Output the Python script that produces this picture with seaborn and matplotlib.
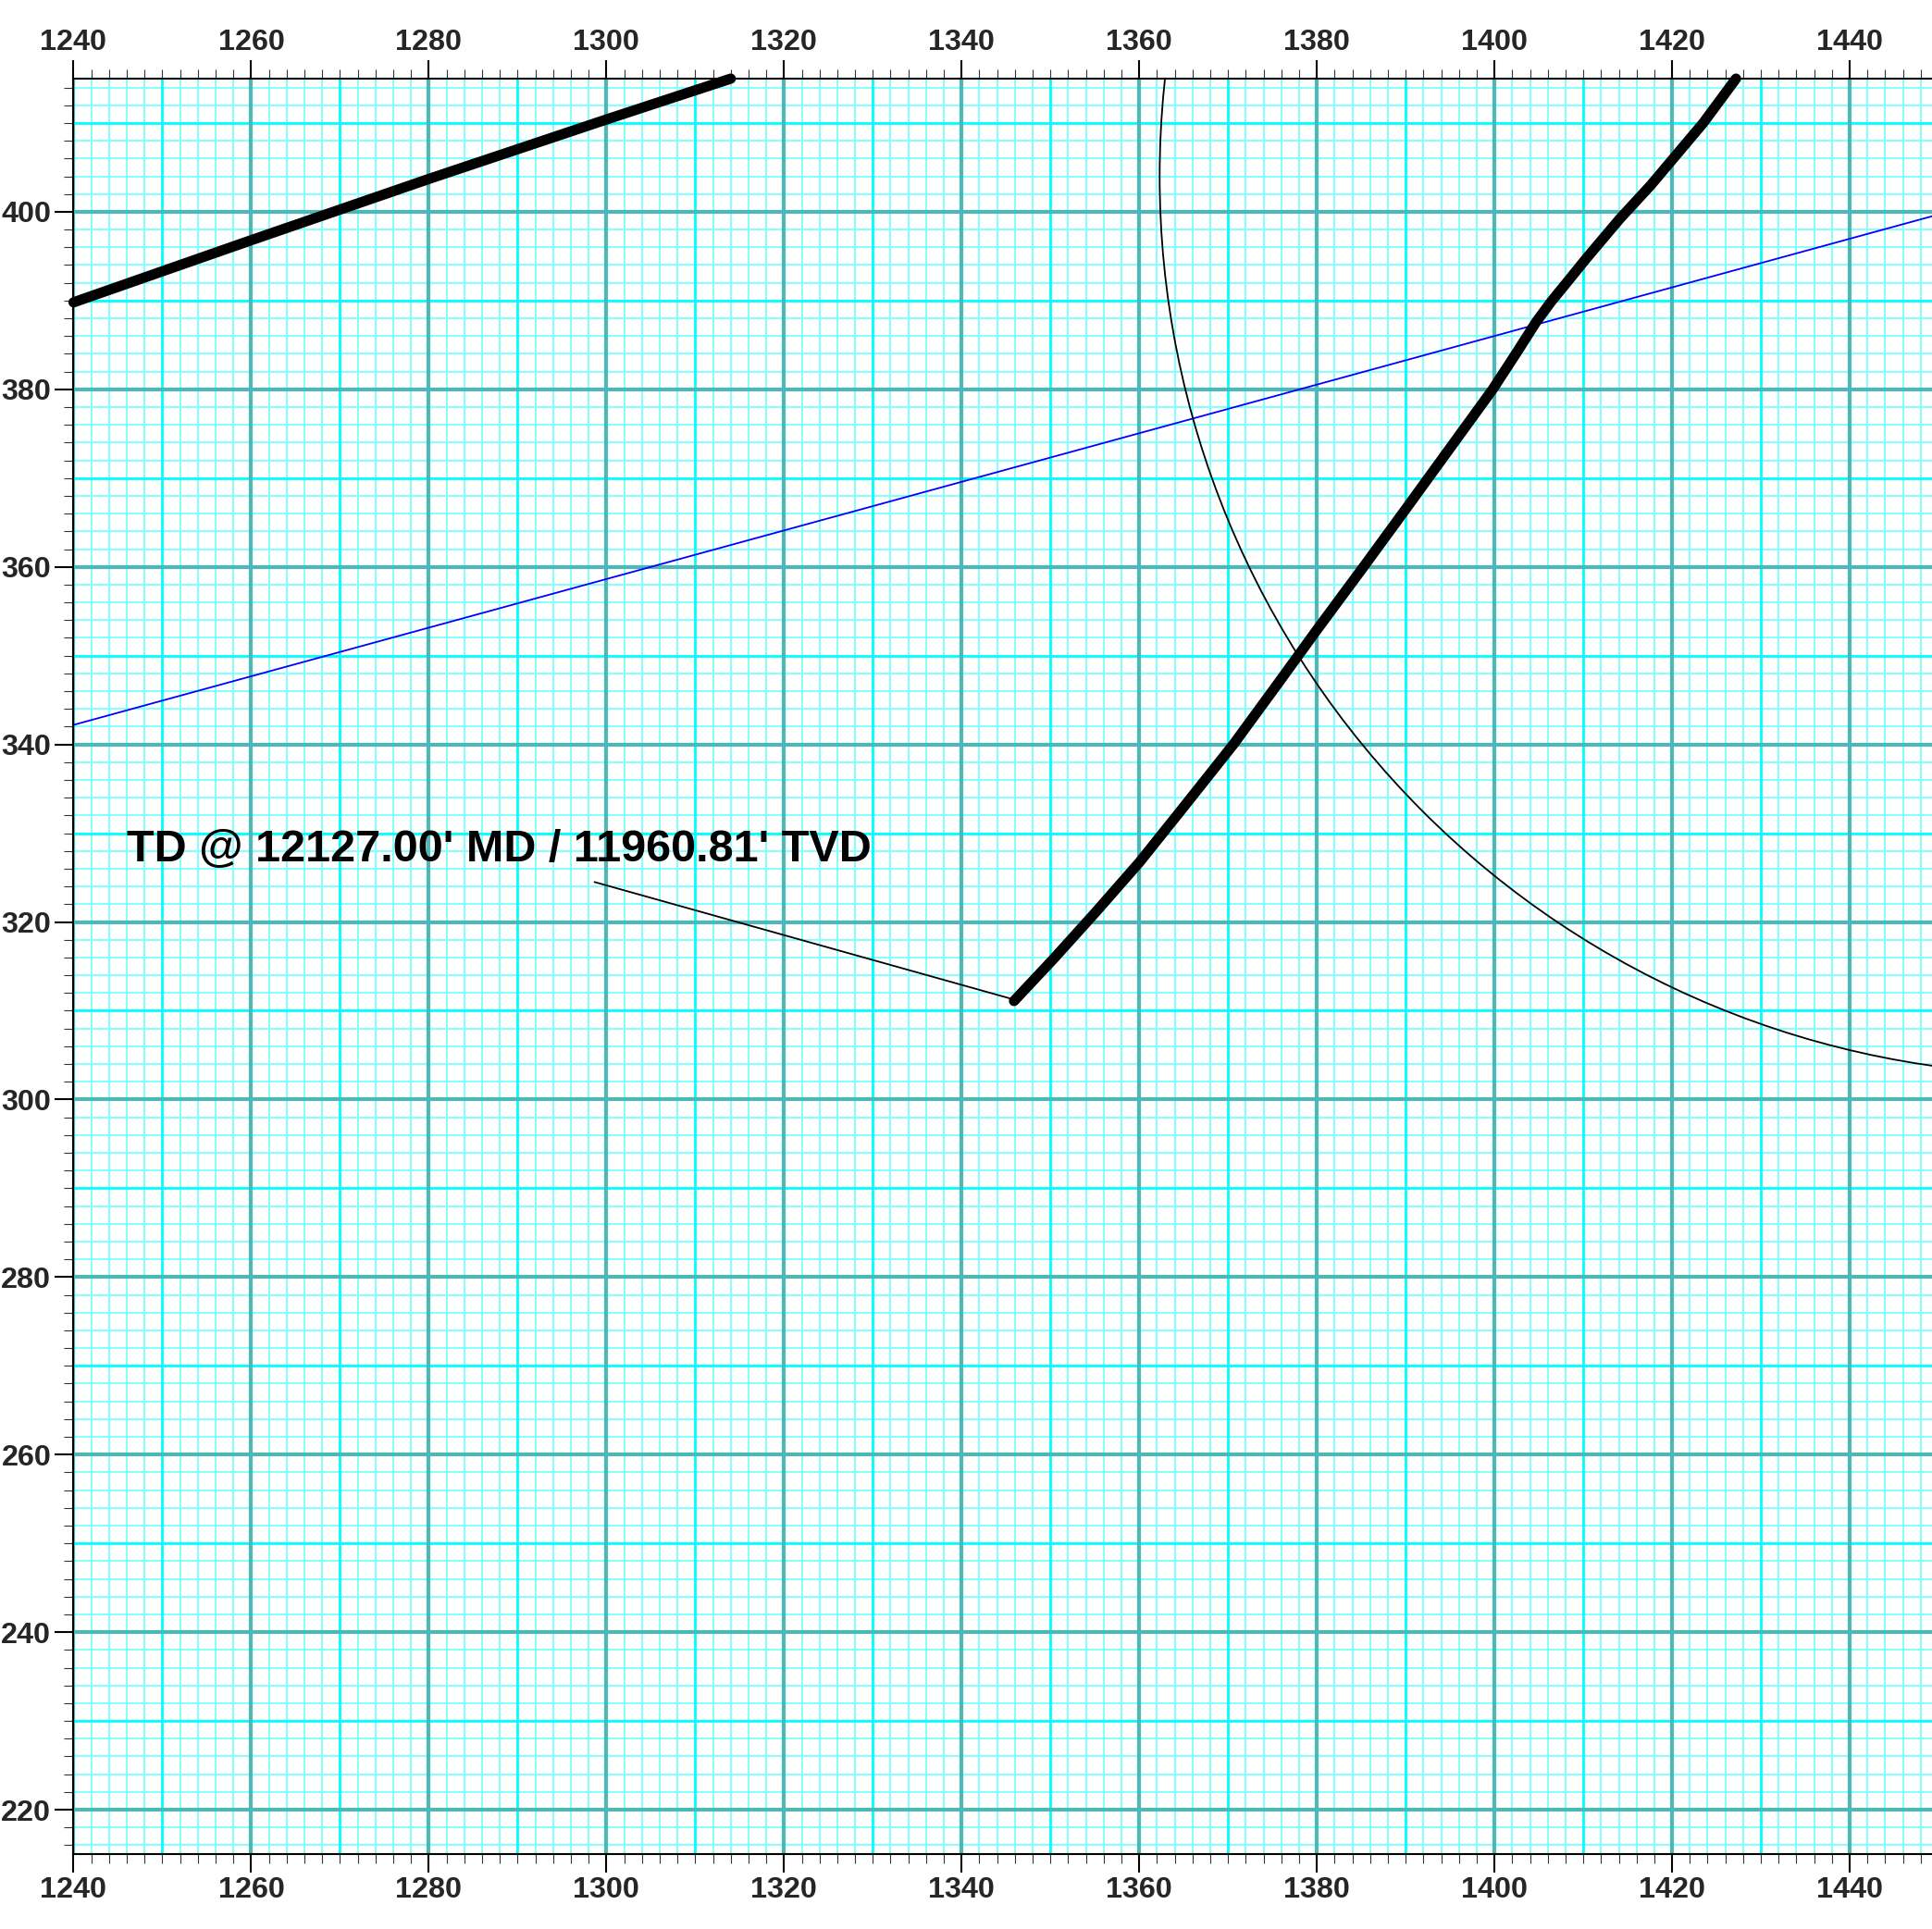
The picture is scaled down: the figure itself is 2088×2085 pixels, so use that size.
import numpy as np
import matplotlib
matplotlib.use('Agg')
import matplotlib.pyplot as plt
from matplotlib.ticker import MultipleLocator
from matplotlib.patches import Circle
import seaborn as sns

# dados (coordenadas em pés)

# trecho superior esquerdo do poço
poco_a_x = [1240.0, 1260.0, 1280.0, 1300.0, 1314.0]
poco_a_y = [389.8, 396.8, 403.7, 410.4, 415.0]

# trajetória principal até o TD
poco_b_x = [1345.9, 1350.4, 1355.0, 1360.0, 1365.2, 1370.6, 1375.5, 1380.0, 1385.25,
            1390.0, 1394.5, 1399.8, 1402.6, 1404.7, 1406.4, 1408.6, 1410.3, 1414.1,
            1417.6, 1423.5, 1427.2]
poco_b_y = [311.1, 315.9, 321.0, 326.7, 333.2, 340.0, 346.7, 352.9, 360.0,
            366.5, 372.7, 380.0, 384.3, 387.6, 389.9, 392.6, 394.7, 399.2,
            403.0, 410.0, 415.0]

# linha azul
linha_azul_x = [1240.0, 1450.0]
linha_azul_y = [342.2, 399.7]

# arco fino (círculo: centro e raio)
arco_centro = (1463.5, 404.0)
arco_raio = 101.2

# anotação do TD
texto_td = "TD @ 12127.00' MD / 11960.81' TVD"
texto_td_pos = (1245.97, 326.8)
guia_x = [1298.66, 1345.76]
guia_y = [324.5, 311.3]

# eixos
x_lim = (1240, 1450)
y_lim = (215, 415)
x_ticks = [1240, 1260, 1280, 1300, 1320, 1340, 1360, 1380, 1400, 1420, 1440]
x_labels = [str(v) for v in x_ticks]
y_ticks = [220, 240, 260, 280, 300, 320, 340, 360, 380, 400]
y_labels = [str(v) for v in y_ticks]

sns.set_style('white')
plt.rcParams['font.family'] = ['Liberation Sans', 'DejaVu Sans']

fig = plt.figure(figsize=(20.88, 20.85), dpi=100)
ax = fig.add_axes([0.03807, 0.03885, 0.9653, 0.92038])
ax.set_xlim(*x_lim)
ax.set_ylim(*y_lim)

# papel milimetrado: linhas a cada 2, 10 e 20
for v in np.arange(1240, 1452, 2):
    ax.axvline(v, color='#85FFFF', lw=1.4, zorder=0.1)
for v in np.arange(216, 415, 2):
    ax.axhline(v, color='#85FFFF', lw=1.4, zorder=0.1)
for v in np.arange(1250, 1452, 20):
    ax.axvline(v, color='#00FFFF', lw=2.0, zorder=0.2)
for v in np.arange(230, 415, 20):
    ax.axhline(v, color='#00FFFF', lw=2.0, zorder=0.2)
for v in np.arange(1240, 1452, 20):
    ax.axvline(v, color='#4DB8B8', lw=3.0, zorder=0.3)
for v in np.arange(220, 415, 20):
    ax.axhline(v, color='#4DB8B8', lw=3.0, zorder=0.3)

# linhas
sns.lineplot(x=linha_azul_x, y=linha_azul_y, sort=False, estimator=None,
             color='#0000FF', linewidth=1.3, ax=ax)
ax.add_patch(Circle(arco_centro, arco_raio, fill=False, edgecolor='black',
                    linewidth=1.3, zorder=2))
sns.lineplot(x=guia_x, y=guia_y, sort=False, estimator=None,
             color='black', linewidth=1.3, ax=ax)
sns.lineplot(x=poco_a_x, y=poco_a_y, sort=False, estimator=None, color='black',
             linewidth=8, solid_capstyle='round', solid_joinstyle='round',
             clip_on=False, ax=ax)
sns.lineplot(x=poco_b_x, y=poco_b_y, sort=False, estimator=None, color='black',
             linewidth=8, solid_capstyle='round', solid_joinstyle='round',
             clip_on=False, ax=ax)

ax.text(texto_td_pos[0], texto_td_pos[1], texto_td, fontsize=35,
        fontweight='bold', va='baseline', ha='left', color='black', zorder=5)

# ticks
ax.set_xticks(x_ticks)
ax.set_xticklabels(x_labels)
ax.set_yticks(y_ticks)
ax.set_yticklabels(y_labels)
ax.xaxis.set_minor_locator(MultipleLocator(2))
ax.yaxis.set_minor_locator(MultipleLocator(2))
ax.tick_params(axis='x', which='both', direction='out', top=True, bottom=True,
               labeltop=True, labelbottom=True)
ax.tick_params(axis='y', which='both', direction='out', left=True, right=True,
               labelleft=True, labelright=False)
ax.tick_params(which='major', length=14.4, width=1.5, color='black',
               labelsize=23.3, pad=3)
ax.tick_params(which='minor', length=7.2, width=0.8, color='#333333')
for lab in ax.get_xticklabels() + ax.get_yticklabels():
    lab.set_fontweight('bold')

for s in ax.spines.values():
    s.set_color('black')
    s.set_linewidth(1.5)
    s.set_zorder(4)

ax.set_xlabel('')
ax.set_ylabel('')

plt.savefig('out.png', dpi=100)
